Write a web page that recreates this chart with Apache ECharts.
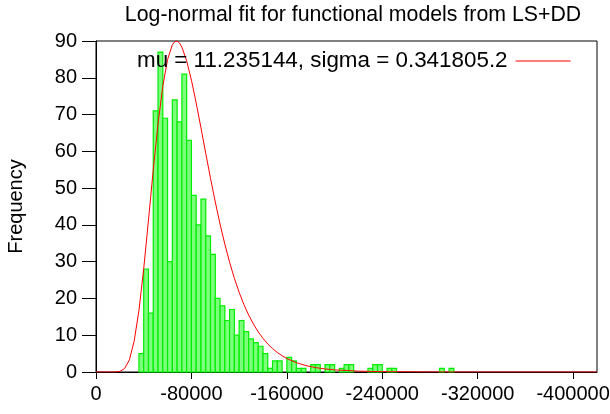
<!DOCTYPE html>
<html>
<head>
<meta charset="utf-8">
<script src="https://cdn.jsdelivr.net/npm/echarts@6/dist/echarts.min.js"></script>
<style>
  html, body { margin: 0; padding: 0; background: #ffffff; }
  #chart { width: 610px; height: 414px; }
</style>
</head>
<body>
<div id="chart"></div>
<script>
// Histogram of model energies: bins run from firstBinEdge towards more negative values
const binWidth = 4000;
const firstBinEdge = -36000;
const binCounts = [
  5, 28, 16, 71, 87, 69, 30, 74, 68, 81,
  63, 48, 40, 47, 37, 32, 20, 18, 14, 17,
  10, 14, 11, 9, 8, 7, 5, 1, 3, 3,
  0, 4, 3, 1, 1, 0, 2, 2, 0, 2,
  2, 0, 1, 2, 2, 0, 0, 0, 1, 2,
  2, 0, 1, 1, 0, 0, 0, 0, 0, 0,
  0, 0, 0, 1, 0, 1
];

// Fitted log-normal density (scaled to the frequency axis)
const fitLabel = 'mu = 11.235144, sigma = 0.341805.2';
const curveX = [
  0, -12000, -16000, -20000, -24000, -28000, -32000, -36000, -40000, -44000,
  -48000, -52000, -56000, -60000, -64000, -66000, -68000, -70000, -72000, -76000,
  -80000, -84000, -88000, -92000, -96000, -100000, -104000, -108000, -112000, -116000,
  -120000, -124000, -128000, -132000, -136000, -140000, -144000, -148000, -152000, -156000,
  -160000, -168000, -176000, -184000, -192000, -200000, -220000, -240000, -280000, -320000,
  -420000
];
const curveY = [
  0, 0, 0.01, 0.16, 0.94, 3.31, 8.37, 16.73, 28.08, 41.34,
  54.98, 67.49, 77.71, 84.95, 88.98, 89.83, 89.97, 89.45, 88.33, 84.61,
  79.36, 73.13, 66.37, 59.46, 52.67, 46.22, 40.22, 34.75, 29.84, 25.48,
  21.66, 18.33, 15.47, 13.01, 10.91, 9.14, 7.63, 6.37, 5.31, 4.42,
  3.67, 2.53, 1.74, 1.20, 0.83, 0.57, 0.23, 0.09, 0.02, 0,
  0
];

// Axis ticks
const xTicks = [0, -80000, -160000, -240000, -320000, -400000];
const yMax = 90;
const yStep = 10;

const titleText = 'Log-normal fit for functional models from LS+DD';
const yAxisTitle = 'Frequency';

const FONT = '"Liberation Sans", Arial, Helvetica, sans-serif';

const barData = binCounts.map((c, i) => [
  firstBinEdge - i * binWidth,
  firstBinEdge - (i + 1) * binWidth,
  c
]).filter(d => d[2] > 0);

const lineData = curveX.map((x, i) => [x, curveY[i]]);

const chart = echarts.init(document.getElementById('chart'), null, { renderer: 'canvas' });

chart.setOption({
  animation: false,
  backgroundColor: '#ffffff',
  title: {
    text: titleText,
    left: 348,
    textAlign: 'center',
    top: 0,
    textStyle: { fontFamily: FONT, fontSize: 21.3, fontWeight: 'normal', color: '#000' }
  },
  legend: {
    data: [{ name: fitLabel, icon: 'rect' }],
    left: 132,
    top: 45,
    align: 'right',
    itemWidth: 55,
    itemHeight: 1,
    itemGap: 0,
    textStyle: { fontFamily: FONT, fontSize: 22.4, color: '#000', padding: [0, 3, 0, 0] },
    selectedMode: false
  },
  grid: {
    left: 96,
    right: 13,
    top: 41,
    bottom: 42,
    show: true,
    borderColor: '#000',
    borderWidth: 1,
    containLabel: false,
    outerBoundsMode: 'none'
  },
  xAxis: {
    type: 'value',
    min: -420000,
    max: 0,
    inverse: true,
    splitLine: { show: false },
    axisLine: { show: true, onZero: false, lineStyle: { color: '#000', width: 1 } },
    axisTick: { show: true, length: 7, customValues: xTicks, lineStyle: { color: '#000' } },
    axisLabel: {
      customValues: xTicks,
      formatter: v => String(v),
      fontFamily: FONT, fontSize: 20, color: '#000', margin: 12
    }
  },
  yAxis: {
    type: 'value',
    min: 0,
    max: yMax,
    interval: yStep,
    name: yAxisTitle,
    nameLocation: 'middle',
    nameRotate: 90,
    nameGap: 70,
    nameTextStyle: { fontFamily: FONT, fontSize: 20, color: '#000' },
    splitLine: { show: false },
    axisLine: { show: true, lineStyle: { color: '#000', width: 1 } },
    axisTick: { show: true, length: 14, lineStyle: { color: '#000' } },
    axisLabel: { fontFamily: FONT, fontSize: 20, color: '#000', margin: 19 }
  },
  series: [
    {
      type: 'custom',
      name: 'hist',
      data: barData,
      encode: { x: [0, 1], y: 2 },
      renderItem: (params, api) => {
        const a = api.coord([api.value(0), api.value(2)]);
        const b = api.coord([api.value(1), 0]);
        return {
          type: 'rect',
          shape: {
            x: Math.min(a[0], b[0]),
            y: a[1],
            width: Math.abs(b[0] - a[0]),
            height: b[1] - a[1]
          },
          style: { fill: '#7dff7d', stroke: '#00ee00', lineWidth: 1.2 }
        };
      },
      z: 2
    },
    {
      type: 'line',
      name: fitLabel,
      data: lineData,
      showSymbol: false,
      symbol: 'none',
      smooth: false,
      color: '#ff0000',
      lineStyle: { color: '#ff0000', width: 1 },
      z: 3
    }
  ]
});
</script>
</body>
</html>
